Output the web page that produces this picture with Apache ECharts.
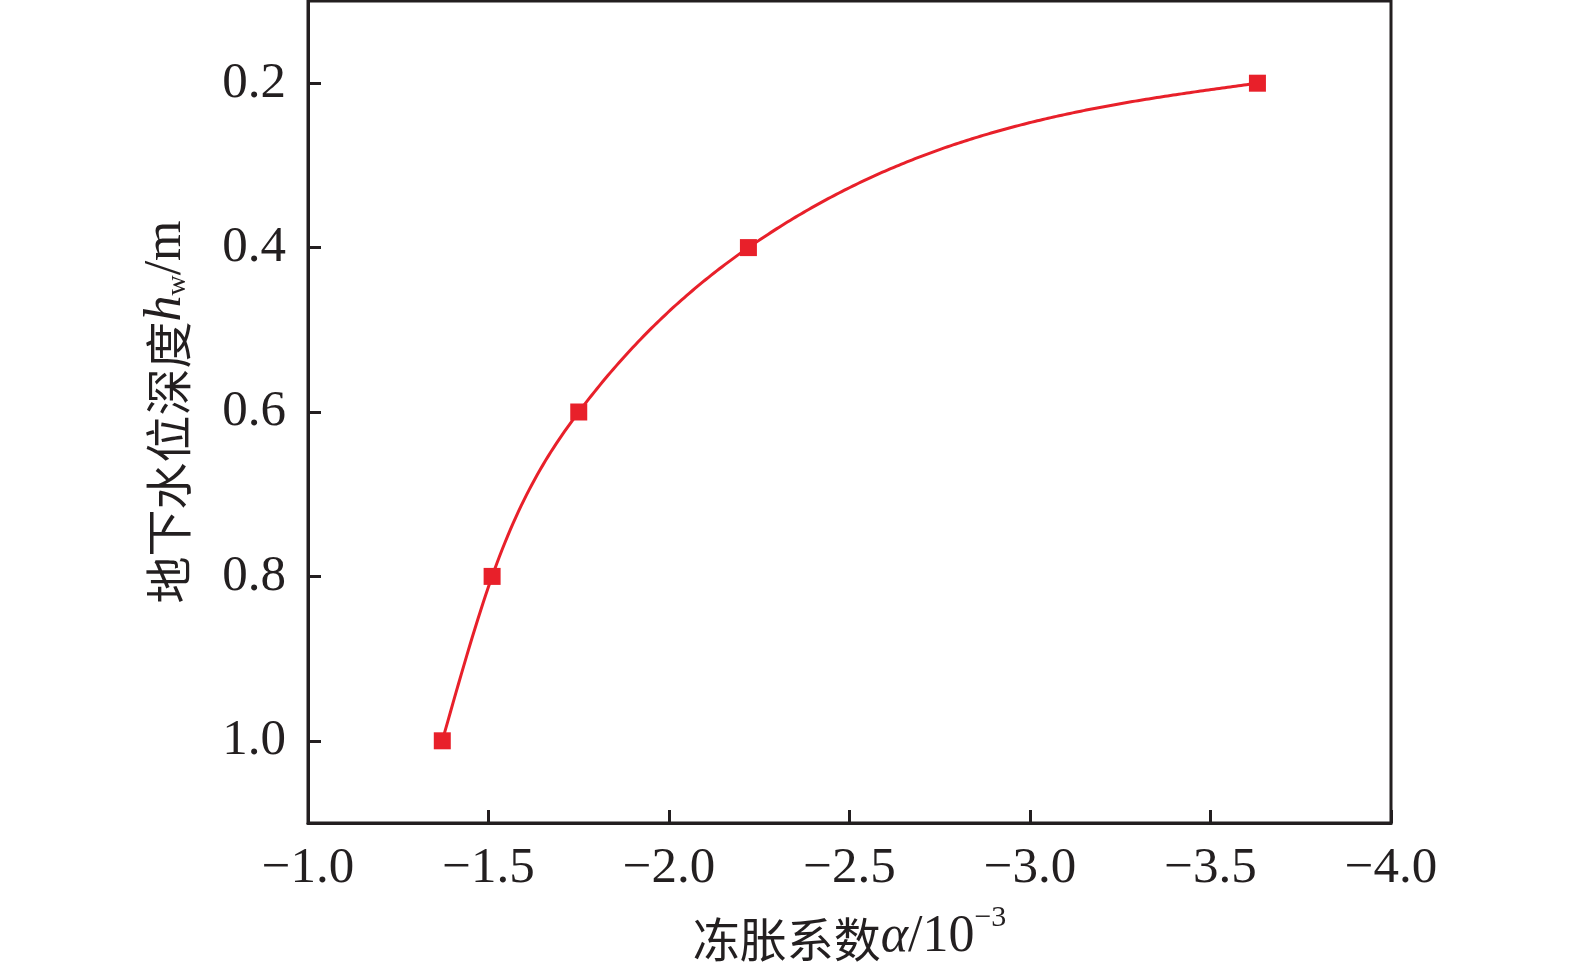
<!DOCTYPE html>
<html><head><meta charset="utf-8">
<script src="https://cdn.jsdelivr.net/npm/echarts@6/dist/echarts.min.js"></script>
<style>html,body{margin:0;padding:0;background:#fff}#c{width:1575px;height:972px}</style>
</head><body><div id="c"></div>
<script>
const alphaValues = [-1.372, -1.51, -1.75, -2.22, -3.63];
const depthValues = [1.0, 0.8, 0.6, 0.4, 0.2];
const yTickValues = [0.2, 0.4, 0.6, 0.8, 1.0];

const data = alphaValues.map((a, i) => [a, depthValues[i]]);
const ink = '#231f20';
const red = '#e8202a';
const serif = '"Liberation Serif","Times New Roman",serif';
const cjk = '"Noto Sans CJK SC",sans-serif';

// natural cubic spline coefficients (y as function of x), for line rendering
function naturalSpline(xs, ys) {
  const n = xs.length, h = [], M = new Array(n).fill(0);
  for (let i = 0; i < n - 1; i++) h.push(xs[i + 1] - xs[i]);
  const a = [], b = [], c = [], d = [];
  for (let i = 1; i < n - 1; i++) {
    a.push(h[i - 1]); b.push(2 * (h[i - 1] + h[i])); c.push(h[i]);
    d.push(6 * ((ys[i + 1] - ys[i]) / h[i] - (ys[i] - ys[i - 1]) / h[i - 1]));
  }
  const m = b.length;
  for (let i = 1; i < m; i++) { const w = a[i] / b[i - 1]; b[i] -= w * c[i - 1]; d[i] -= w * d[i - 1]; }
  const sol = new Array(m);
  for (let i = m - 1; i >= 0; i--) sol[i] = (d[i] - (i < m - 1 ? c[i] * sol[i + 1] : 0)) / b[i];
  for (let i = 0; i < m; i++) M[i + 1] = sol[i];
  return function (x) {
    let i = 0;
    while (i < n - 2 && x > xs[i + 1]) i++;
    const hi = h[i], t1 = xs[i + 1] - x, t0 = x - xs[i];
    return M[i] * t1 * t1 * t1 / (6 * hi) + M[i + 1] * t0 * t0 * t0 / (6 * hi)
      + (ys[i] / hi - M[i] * hi / 6) * t1 + (ys[i + 1] / hi - M[i + 1] * hi / 6) * t0;
  };
}
const us = alphaValues.map(v => -v);
const spline = naturalSpline(us, depthValues);

const chart = echarts.init(document.getElementById('c'));
chart.setOption({
  animation: false,
  backgroundColor: '#fff',
  grid: { left: 308, right: 184, top: 1, bottom: 149, show: true, borderColor: ink, borderWidth: 3 },
  xAxis: {
    type: 'value', min: -4, max: -1, interval: 0.5, inverse: true,
    axisLine: { show: true, lineStyle: { color: ink, width: 3 } },
    axisTick: { show: true, inside: true, length: 13, lineStyle: { color: ink, width: 3 } },
    splitLine: { show: false },
    axisLabel: { color: ink, fontFamily: serif, fontSize: 51, margin: 20, showMinLabel: true, showMaxLabel: true,
      formatter: v => (v < 0 ? '\u2212' : '') + Math.abs(v).toFixed(1) },
    name: '{c|冻胀系数}{a|α}{n|/10}{s|−3}',
    nameLocation: 'middle', nameGap: 80,
    nameTextStyle: { rich: {
      c: { fontFamily: cjk, fontSize: 47, color: ink, lineHeight: 60, verticalAlign: 'bottom' },
      a: { fontFamily: serif, fontStyle: 'italic', fontSize: 52, color: ink, lineHeight: 60, verticalAlign: 'bottom' },
      n: { fontFamily: serif, fontSize: 52, color: ink, lineHeight: 60, verticalAlign: 'bottom' },
      s: { fontFamily: serif, fontSize: 30, color: ink, lineHeight: 60, verticalAlign: 'top' }
    } }
  },
  yAxis: {
    type: 'value', min: 0.1, max: 1.1, inverse: true,
    axisLine: { show: true, lineStyle: { color: ink, width: 3 } },
    axisTick: { show: true, inside: true, length: 13, customValues: yTickValues, lineStyle: { color: ink, width: 3 } },
    splitLine: { show: false },
    axisLabel: { color: ink, fontFamily: serif, fontSize: 51, margin: 22, customValues: yTickValues,
      formatter: v => v.toFixed(1) },
    name: '{c|地下水位深度}{h|h}{w|w}{m|/m}',
    nameLocation: 'middle', nameGap: 116, nameRotate: 90,
    nameTextStyle: { rich: {
      c: { fontFamily: cjk, fontSize: 47, color: ink, lineHeight: 60, verticalAlign: 'bottom' },
      h: { fontFamily: serif, fontStyle: 'italic', fontSize: 52, color: ink, lineHeight: 60, verticalAlign: 'bottom' },
      w: { fontFamily: serif, fontSize: 28, color: ink, lineHeight: 56, verticalAlign: 'bottom' },
      m: { fontFamily: serif, fontSize: 52, color: ink, lineHeight: 60, verticalAlign: 'bottom' }
    } }
  },
  series: [{
    type: 'custom', data: [data[0]], encode: { x: 0, y: 1 }, silent: true, z: 2,
    renderItem: function (params, api) {
      const pts = [];
      const u0 = us[0], u1 = us[us.length - 1], steps = 300;
      for (let k = 0; k <= steps; k++) {
        const u = u0 + (u1 - u0) * k / steps;
        pts.push(api.coord([-u, spline(u)]));
      }
      return { type: 'polyline', shape: { points: pts }, style: { stroke: red, lineWidth: 3, fill: null } };
    }
  }, {
    type: 'scatter', data: data, z: 3,
    symbol: 'rect', symbolSize: 17,
    itemStyle: { color: red, opacity: 1 }
  }]
});
</script></body></html>
